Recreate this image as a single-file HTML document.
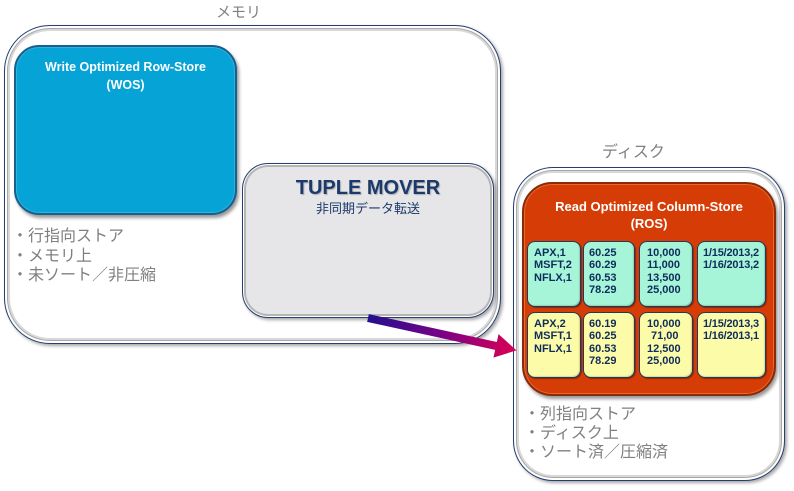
<!DOCTYPE html>
<html>
<head>
<meta charset="utf-8">
<style>
  html,body{margin:0;padding:0;}
  body{width:794px;height:491px;position:relative;background:#fff;overflow:hidden;
    font-family:"Liberation Sans","Noto Sans CJK JP",sans-serif;}
  .abs{position:absolute;box-sizing:border-box;}
  .cont{border:1px solid #243f73;background:#fff;
    box-shadow:inset 0 0 0 2px #fff, inset 0 0 0 3px #a8a8a8, inset 0 0 0 5px #d8d8d8, 2px 2px 3px rgba(0,0,0,.35);}
  .lbl{position:absolute;color:#808080;font-size:16px;white-space:nowrap;line-height:19.5px;}
  .cell{position:absolute;box-sizing:border-box;border:1px solid #1e3a5e;border-radius:8px;
    font-weight:bold;font-size:11px;line-height:12.3px;color:#102c5c;padding-top:5px;
    box-shadow:1px 1px 1px rgba(0,0,0,.35), inset -1px -1px 1px rgba(0,0,0,.15);}
  .g{background:#a6f5d8;}
  .y{background:#fcfca8;}
</style>
</head>
<body>

<!-- labels -->
<div class="lbl" style="left:216px;top:3px;font-size:15px;">メモリ</div>
<div class="lbl" style="left:602px;top:143px;">ディスク</div>

<!-- memory container -->
<div class="abs cont" style="left:4px;top:25px;width:497px;height:319px;border-radius:46px;"></div>

<!-- WOS -->
<div class="abs" style="left:14px;top:45px;width:223px;height:170px;border-radius:25px;background:#05a3d6;border:2px solid #1a5e8c;box-shadow:2px 3px 3px rgba(0,0,0,.4), inset 0 0 0 1px #2bb4e0;"></div>
<div class="abs" style="left:14px;top:58px;width:223px;text-align:center;color:#fff;font-weight:bold;font-size:12.5px;line-height:18px;">Write Optimized Row-Store<br>(WOS)</div>

<div class="lbl" style="left:12px;top:227px;">・行指向ストア<br>・メモリ上<br>・未ソート／非圧縮</div>

<!-- TUPLE MOVER -->
<div class="abs cont" style="left:242px;top:163px;width:252px;height:155px;border-radius:26px;background:#e6e6e8;box-shadow:inset 0 0 0 1px #fff, inset 0 0 0 3px #b5b5b5, 2px 2px 3px rgba(0,0,0,.35);"></div>
<div class="abs" style="left:242px;top:176px;width:252px;text-align:center;color:#1b3a6b;font-weight:bold;font-size:20px;line-height:24px;text-shadow:1px 1px 1px rgba(0,0,0,.25);">TUPLE MOVER</div>
<div class="abs" style="left:242px;top:201px;width:252px;text-align:center;color:#1b3a6b;font-size:13px;line-height:16px;">非同期データ転送</div>

<!-- disk container -->
<div class="abs cont" style="left:513px;top:167px;width:272px;height:314px;border-radius:40px;"></div>

<!-- ROS -->
<div class="abs" style="left:522px;top:182px;width:254px;height:214px;border-radius:30px;background:#d63d06;border:2px solid #8a2a08;box-shadow:2px 3px 3px rgba(0,0,0,.4), inset 0 0 0 1px #e86a30;"></div>
<div class="abs" style="left:522px;top:198px;width:254px;text-align:center;color:#fff;font-weight:bold;font-size:13px;line-height:17px;">Read Optimized Column-Store<br>(ROS)</div>

<!-- top row cells -->
<div class="cell g" style="left:527px;top:241px;width:54px;height:66px;padding-left:6px;">APX,1<br>MSFT,2<br>NFLX,1</div>
<div class="cell g" style="left:583px;top:241px;width:52px;height:66px;padding-left:5px;">60.25<br>60.29<br>60.53<br>78.29</div>
<div class="cell g" style="left:639px;top:241px;width:54px;height:66px;padding-left:7px;">10,000<br>11,000<br>13,500<br>25,000</div>
<div class="cell g" style="left:697px;top:241px;width:69px;height:66px;padding-left:5px;letter-spacing:-0.2px;">1/15/2013,2<br>1/16/2013,2</div>

<!-- bottom row cells -->
<div class="cell y" style="left:527px;top:312px;width:54px;height:66px;padding-left:6px;">APX,2<br>MSFT,1<br>NFLX,1</div>
<div class="cell y" style="left:583px;top:312px;width:52px;height:66px;padding-left:5px;">60.19<br>60.25<br>60.53<br>78.29</div>
<div class="cell y" style="left:639px;top:312px;width:54px;height:66px;padding-left:7px;">10,000<br><span style="padding-left:4px">71,00</span><br>12,500<br>25,000</div>
<div class="cell y" style="left:697px;top:312px;width:69px;height:66px;padding-left:5px;letter-spacing:-0.2px;">1/15/2013,3<br>1/16/2013,1</div>

<div class="lbl" style="left:524px;top:405px;line-height:19px;">・列指向ストア<br>・ディスク上<br>・ソート済／圧縮済</div>

<!-- arrow -->
<svg class="abs" style="left:0;top:0;" width="794" height="491" viewBox="0 0 794 491">
  <defs>
    <linearGradient id="ag" x1="0" y1="0" x2="1" y2="0">
      <stop offset="0" stop-color="#22108e"/>
      <stop offset="0.5" stop-color="#7a0087"/>
      <stop offset="1" stop-color="#dc0052"/>
    </linearGradient>
  </defs>
  <g transform="translate(368,318) rotate(12.3)">
    <polygon points="0,-4 131,-4 131,-12 152,0 131,12 131,4 0,4" fill="url(#ag)"/>
  </g>
</svg>

</body>
</html>
